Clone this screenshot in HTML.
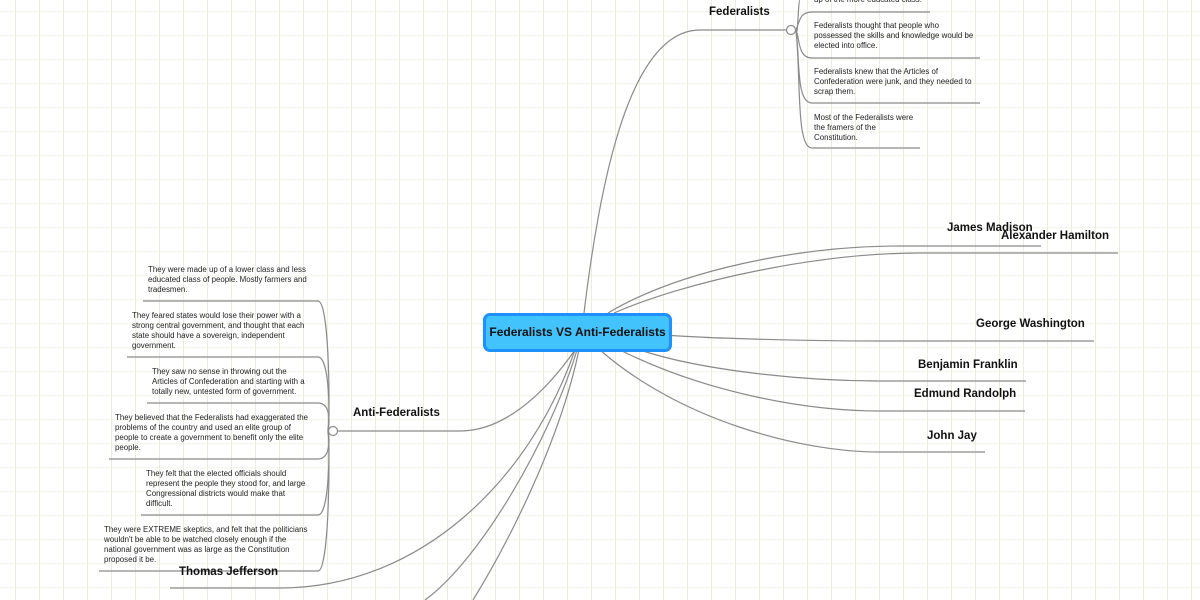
<!DOCTYPE html>
<html><head><meta charset="utf-8"><style>
html,body{margin:0;padding:0}
body{width:1200px;height:600px;position:relative;overflow:hidden;background:#fff;
background-image:linear-gradient(90deg,#e6f0dc 0,#e6f0dc 1.2px,transparent 1.2px),linear-gradient(#f4f7ef 0,#f4f7ef 1.5px,transparent 1.5px);
background-size:24px 24px,24px 24px;background-position:15px 0,0 11px;font-family:"Liberation Sans",sans-serif}
.t{position:absolute;font-size:7.9px;line-height:10px;color:#222;white-space:nowrap}
.b{position:absolute;font-size:11.5px;font-weight:bold;color:#111;white-space:nowrap}
svg{position:absolute;left:0;top:0}
.c{position:absolute;left:483px;top:313px;width:183px;height:33px;background:#42c3fb;border:3px solid #1e90ff;border-radius:7px;font-weight:bold;font-size:12px;text-align:center;line-height:33px;color:#111}
</style></head><body>
<svg width="1200" height="600" fill="none" stroke="#8a8a8a" stroke-width="1.2">
<path d="M584 313 C600 180 630 30 700 30 L786 30"/>
<path d="M796 30 C800 20 800 12 812 12 L930 12"/>
<path d="M796 30 C798 40 798 0 800 0"/>
<path d="M796 30 C800 40 798 58 812 58 L980 58"/>
<path d="M796 30 C800 60 796 103 812 103 L980 103"/>
<path d="M796 30 C801 80 796 148 812 148 L920 148"/>
<path d="M575 350 C540 400 500 431 460 431 L338 431"/>
<path d="M328 431 C330 420 330 301 318 301 L143 301"/>
<path d="M328 431 C330 420 330 357 318 357 L127 357"/>
<path d="M328 431 C330 420 330 403 318 403 L147 403"/>
<path d="M328 431 C330 440 330 459 318 459 L109 459"/>
<path d="M328 431 C330 440 330 515 318 515 L141 515"/>
<path d="M328 431 C330 440 330 571 318 571 L99 571"/>
<path d="M575 350 C530 480 420 588 280 588 L170 588"/>
<path d="M577 350 C550 440 480 560 425 600"/>
<path d="M579 350 C560 440 510 540 473 600"/>
<path d="M608 313 C680 270 800 246 900 246 L1041 246"/>
<path d="M614 313 C690 280 820 253 920 253 L1118 253"/>
<path d="M666 335 C700 338 800 341 880 341 L1094 341"/>
<path d="M640 350 C700 370 800 381 880 381 L1026 381"/>
<path d="M620 350 C700 390 800 411 880 411 L1025 411"/>
<path d="M600 350 C680 420 800 452 880 452 L985 452"/>
<circle cx="791" cy="30" r="4.5" fill="#fff"/>
<circle cx="333" cy="431" r="4.5" fill="#fff"/>
</svg>
<div class="c">Federalists VS Anti-Federalists</div>
<div class="b" style="left:709px;top:6px">Federalists</div>
<div class="b" style="left:353px;top:407px">Anti-Federalists</div>
<div class="b" style="left:179px;top:566px">Thomas Jefferson</div>
<div class="b" style="left:947px;top:222px">James Madison</div>
<div class="b" style="left:1001px;top:230px">Alexander Hamilton</div>
<div class="b" style="left:976px;top:318px">George Washington</div>
<div class="b" style="left:918px;top:359px">Benjamin Franklin</div>
<div class="b" style="left:914px;top:388px">Edmund Randolph</div>
<div class="b" style="left:927px;top:430px">John Jay</div>
<div class="t" style="left:814px;top:-5px">up of the more educated class.</div>
<div class="t" style="left:814px;top:21px">Federalists thought that people who<br>possessed the skills and knowledge would be<br>elected into office.</div>
<div class="t" style="left:814px;top:67px">Federalists knew that the Articles of<br>Confederation were junk, and they needed to<br>scrap them.</div>
<div class="t" style="left:814px;top:113px">Most of the Federalists were<br>the framers of the<br>Constitution.</div>
<div class="t" style="left:148px;top:265px">They were made up of a lower class and less<br>educated class of people. Mostly farmers and<br>tradesmen.</div>
<div class="t" style="left:132px;top:311px">They feared states would lose their power with a<br>strong central government, and thought that each<br>state should have a sovereign, independent<br>government.</div>
<div class="t" style="left:152px;top:367px">They saw no sense in throwing out the<br>Articles of Confederation and starting with a<br>totally new, untested form of government.</div>
<div class="t" style="left:115px;top:413px">They believed that the Federalists had exaggerated the<br>problems of the country and used an elite group of<br>people to create a government to benefit only the elite<br>people.</div>
<div class="t" style="left:146px;top:469px">They felt that the elected officials should<br>represent the people they stood for, and large<br>Congressional districts would make that<br>difficult.</div>
<div class="t" style="left:104px;top:525px">They were EXTREME skeptics, and felt that the politicians<br>wouldn't be able to be watched closely enough if the<br>national government was as large as the Constitution<br>proposed it be.</div>
</body></html>
